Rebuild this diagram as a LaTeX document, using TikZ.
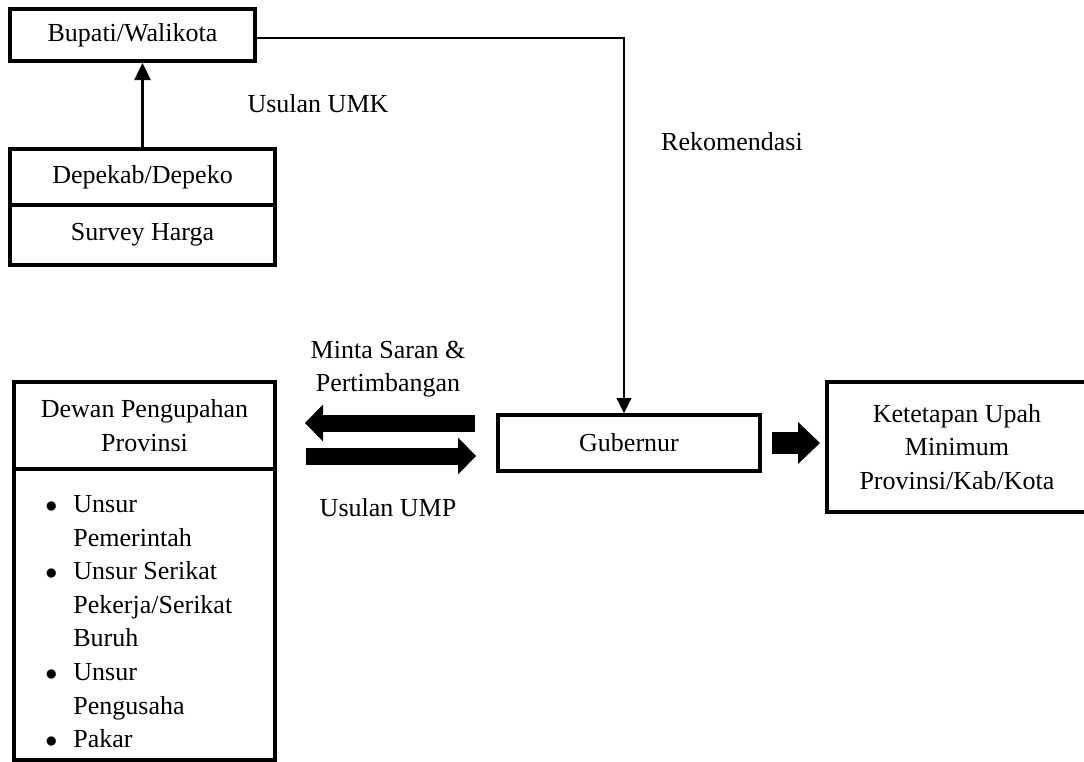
\documentclass[tikz,border=0pt]{standalone}
\usepackage{fontspec}
\setmainfont{Liberation Serif}
\usetikzlibrary{arrows.meta}

\newcommand{\bul}{\makebox[15pt][l]{\hspace{1pt}$\bullet$}}
\newcommand{\ind}{\hspace*{15pt}}

\tikzset{
  txt/.style={font=\fontsize{13}{16.8}\selectfont},
  thickbox/.style={txt, draw, line width=2pt, inner sep=0pt, align=center},
  lbl/.style={txt, inner sep=0pt},
  bigarrow/.style={line width=8.5pt, -{Triangle[width=18.5pt,length=9pt,line width=0pt]}},
}

\begin{document}
\begin{tikzpicture}[x=0.5pt,y=-0.5pt]

\useasboundingbox (0,0) rectangle (1084,762);

% Boxes:
\node[thickbox, minimum width=122.5pt, minimum height=26pt] (bupati) at (132.5,35) {Bupati/Walikota};
\node[thickbox, minimum width=132.5pt, minimum height=28pt] (depekab) at (142.5,177) {Depekab/Depeko};
\node[thickbox, minimum width=132.5pt, minimum height=30pt] (survey) at (142.5,235) {Survey Harga};

\node[thickbox, minimum width=130.5pt, minimum height=43.5pt] (dewan) at (144.5,425.5) {Dewan Pengupahan\\Provinsi};
\node[thickbox, minimum width=130.5pt, minimum height=145.5pt] (dewanlist) at (144.5,614.5) {};
\node[lbl, anchor=north west, align=left] (unsur) at (43,495)
  {\bul Unsur\\ \ind Pemerintah\\ \bul Unsur Serikat\\ \ind Pekerja/Serikat\\ \ind Buruh\\
   \bul Unsur\\ \ind Pengusaha\\ \bul Pakar};

\node[thickbox, minimum width=131pt, minimum height=28pt] (gubernur) at (629,443) {Gubernur};
\node[thickbox, minimum width=130pt, minimum height=65pt] (ketetapan) at (957,447) {Ketetapan Upah\\Minimum\\Provinsi/Kab/Kota};

% Labels:
\node[lbl] (umk) at (318,104) {Usulan UMK};
\node[lbl] (rekom) at (732,142) {Rekomendasi};
\node[lbl, align=center] (saran) at (388,369) {Minta Saran \&\\Pertimbangan};
\node[lbl] (ump) at (388,508) {Usulan UMP};

% Arrows:
\draw[line width=1.25pt, -{Triangle[width=8pt,length=8.5pt]}] (depekab.north) -- (depekab.north |- bupati.south);

\coordinate (bend) at (624,38);
\draw[line width=0.6pt, -{Triangle[width=7.5pt,length=7.5pt]}] (bupati.east |- bend) -- (bend) -- (bend |- gubernur.north);

\draw[bigarrow, shorten <=10.5pt, shorten >=14pt] ([yshift=10pt]gubernur.west) -- ([yshift=10pt]gubernur.west -| dewan.east);
\draw[bigarrow, shorten <=14.5pt, shorten >=10pt] ([yshift=-6.5pt]gubernur.west -| dewan.east) -- ([yshift=-6.5pt]gubernur.west);

\draw[line width=11pt, -{Triangle[width=21pt,length=11pt,line width=0pt]}, shorten <=5pt, shorten >=2.5pt] (gubernur.east) -- (gubernur.east -| ketetapan.west);

\end{tikzpicture}
\end{document}
